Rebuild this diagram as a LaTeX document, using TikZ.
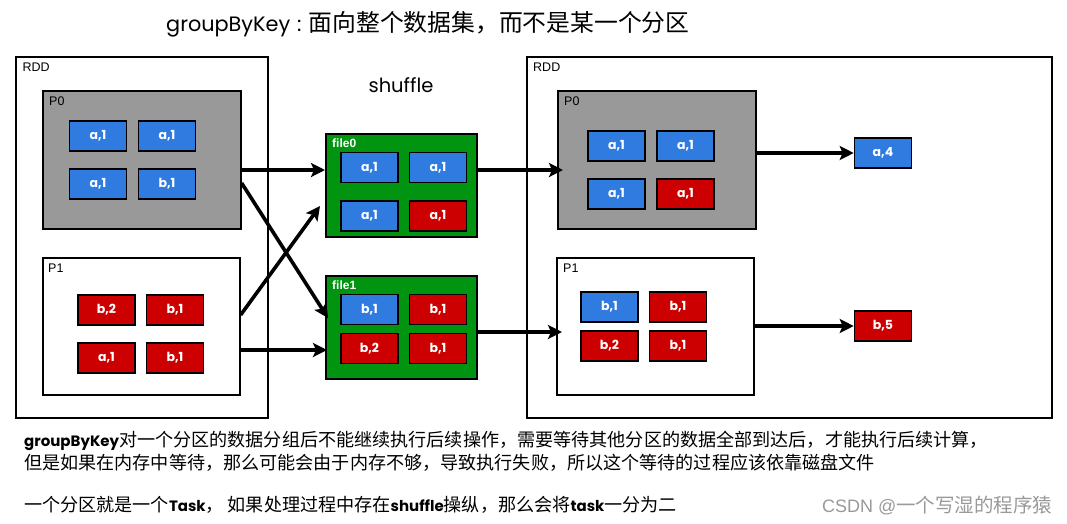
\documentclass[tikz,border=0pt]{standalone}
\usepackage{fontspec}
\setmainfont{Poppins}
\newfontfamily\cjk{Noto Sans CJK SC}
\newfontfamily\arial{Liberation Sans}
\usetikzlibrary{arrows.meta}
\definecolor{itblue}{HTML}{2F7BE0}
\definecolor{itred}{HTML}{CC0000}
\definecolor{fgreen}{HTML}{009410}
\definecolor{pgray}{HTML}{999999}
\tikzset{
  frame/.style={draw=black, line width=1.6pt, anchor=north west, inner sep=0pt},
  item/.style={draw=black, line width=1.6pt, minimum width=57pt, minimum height=30pt, inner sep=0pt, text=white, font=\bfseries\fontsize{12.5}{14}\selectfont},
  bitem/.style={item, fill=itblue},
  ritem/.style={item, fill=itred},
  lbl/.style={anchor=north west, inner sep=0pt, font=\arial\fontsize{12.5}{14}\selectfont},
  flbl/.style={anchor=north west, inner sep=0pt, text=white, font=\arial\bfseries\fontsize{12}{14}\selectfont},
  arr/.style={line width=3.6pt, -{Stealth[length=14pt,width=14pt,inset=3pt]}},
}
\begin{document}
\begin{tikzpicture}[x=1pt,y=-1pt]
\useasboundingbox (0,0) rectangle (1067,523);
% title
\node[anchor=base west, inner sep=0pt] (title) at (166,31) {\fontsize{20.8}{24}\selectfont groupByKey\hspace{7pt}:\hspace{7pt}{\cjk\fontsize{23.8}{26}\selectfont 面向整个数据集，而不是某一个分区}};
\node[inner sep=0pt, font=\fontsize{19.5}{22}\selectfont] (shuf) at (401,85) {shuffle};
% left RDD
\node[frame, minimum width=252pt, minimum height=361pt] (lrdd) at (15,56) {};
\node[lbl] (lrddl) at (22.5,63) {RDD};
\node[frame, fill=pgray, minimum width=198pt, minimum height=138pt] (lp0) at (42,90) {};
\node[lbl] (lp0l) at (49,96.5) {P0};
\node[frame, fill=white, minimum width=197pt, minimum height=137pt] (lp1) at (42,257) {};
\node[lbl] (lp1l) at (48,264) {P1};
\node[bitem] (l00) at (98,136) {a,1};
\node[bitem] (l01) at (167,136) {a,1};
\node[bitem] (l02) at (98,184) {a,1};
\node[bitem] (l03) at (167,184) {b,1};
\node[ritem] (l10) at (106.5,310) {b,2};
\node[ritem] (l11) at (175,310) {b,1};
\node[ritem] (l12) at (106.5,358) {a,1};
\node[ritem] (l13) at (175,358) {b,1};
% files
\node[frame, fill=fgreen, minimum width=151pt, minimum height=103pt] (f0) at (325,133) {};
\node[flbl] (f0l) at (332,139) {file0};
\node[frame, fill=fgreen, minimum width=151pt, minimum height=103pt] (f1) at (325,275) {};
\node[flbl] (f1l) at (332,281) {file1};
\node[bitem] (f00) at (369.5,167.5) {a,1};
\node[bitem] (f01) at (438,167.5) {a,1};
\node[bitem] (f02) at (369.5,216) {a,1};
\node[ritem] (f03) at (438,216) {a,1};
\node[bitem] (f10) at (369.5,309.5) {b,1};
\node[ritem] (f11) at (438,309.5) {b,1};
\node[ritem] (f12) at (369.5,348.5) {b,2};
\node[ritem] (f13) at (438,348.5) {b,1};
% right RDD
\node[frame, minimum width=525pt, minimum height=361pt] (rrdd) at (526,56) {};
\node[lbl] (rrddl) at (533,63) {RDD};
\node[frame, fill=pgray, minimum width=198pt, minimum height=138pt] (rp0) at (557,90) {};
\node[lbl] (rp0l) at (564,96.5) {P0};
\node[frame, fill=white, minimum width=197pt, minimum height=137pt] (rp1) at (556,257) {};
\node[lbl] (rp1l) at (563,264) {P1};
\node[bitem] (r00) at (616.5,146) {a,1};
\node[bitem] (r01) at (685.5,146) {a,1};
\node[bitem] (r02) at (616.5,194) {a,1};
\node[ritem] (r03) at (685.5,194) {a,1};
\node[bitem] (r10) at (609.5,307) {b,1};
\node[ritem] (r11) at (678,307) {b,1};
\node[ritem] (r12) at (609.5,346) {b,2};
\node[ritem] (r13) at (678,346) {b,1};
\node[bitem] (a4) at (883,153) {a,4};
\node[ritem] (b5) at (883,326) {b,5};
% arrows
\draw[arr] (lp0.east |- 0,170) -- (f0.west |- 0,170);
\draw[arr] (lp0.east |- 0,183) -- ([xshift=3pt]f1.west |- 0,318);
\draw[arr] (lp1.east |- 0,315) -- ([xshift=-5pt]f0.west |- 0,206);
\draw[arr] (lp1.east |- 0,350) -- ([xshift=2pt]f1.west |- 0,350);
\draw[arr] (f0.east |- 0,170) -- ([xshift=6pt]rp0.west |- 0,170);
\draw[arr] (f1.east |- 0,332) -- ([xshift=6pt]rp1.west |- 0,332);
\draw[arr] (rp0.east |- 0,153) -- (a4.west);
\draw[arr] (rp1.east |- 0,326) -- (b5.west);
% bottom text
\node[anchor=base west, inner sep=0pt] (t1) at (24,446) {\bfseries\fontsize{15}{18}\selectfont groupByKey{\mdseries\cjk\fontsize{18.1}{20}\selectfont 对一个分区的数据分组后不能继续执行后续操作，需要等待其他分区的数据全部到达后，才能执行后续计算，}};
\node[anchor=base west, inner sep=0pt] (t2) at (24,469) {\cjk\fontsize{18.1}{20}\selectfont 但是如果在内存中等待，那么可能会由于内存不够，导致执行失败，所以这个等待的过程应该依靠磁盘文件};
\node[anchor=base west, inner sep=0pt] (t3) at (24,511) {{\cjk\fontsize{18.1}{20}\selectfont 一个分区就是一个}{\bfseries\fontsize{15}{18}\selectfont Task}{\cjk\fontsize{18.1}{20}\selectfont ， 如果处理过程中存在}{\bfseries\fontsize{15}{18}\selectfont shuffle}{\cjk\fontsize{18.1}{20}\selectfont 操纵，那么会将}{\bfseries\fontsize{15}{18}\selectfont task}{\cjk\fontsize{18.1}{20}\selectfont 一分为二}};
\node[anchor=base west, inner sep=0pt, text=black!40] (wm) at (822,512) {\arial\fontsize{18}{22}\selectfont CSDN @{\cjk\fontsize{19.5}{22}\selectfont 一个写湿的程序猿}};
\end{tikzpicture}
\end{document}
